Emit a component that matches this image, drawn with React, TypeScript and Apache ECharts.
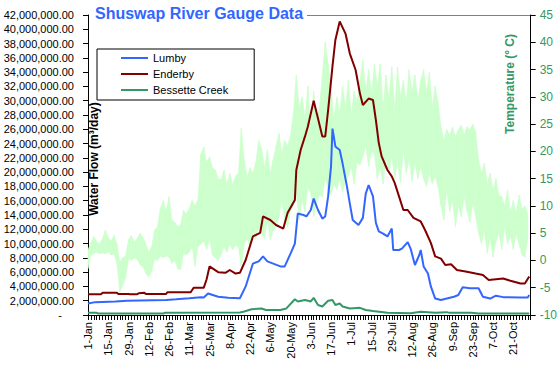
import React, { useEffect, useRef } from 'react';
import * as echarts from 'echarts';

const TITLE = 'Shuswap River Gauge Data';
const LEFT_AXIS_NAME = 'Water Flow (m³/day)';
const RIGHT_AXIS_NAME = 'Temperature (° C)';
const MONTHS = ['Jan', 'Feb', 'Mar', 'Apr', 'May', 'Jun', 'Jul', 'Aug', 'Sep', 'Oct', 'Nov', 'Dec'];
const YEAR = 2004;
const MILLION = 1000000;

// Flow values in millions of m³/day, at day-of-year positions (0 = 1-Jan)
const LUMBY_DAYS = [0, 5, 19, 27, 54, 61, 70, 78, 80, 83, 90, 97, 105, 109, 114, 118, 121, 124, 128, 133, 136, 140, 143, 145, 149, 151, 154, 156, 159, 162, 164, 166, 168, 169, 171, 174, 176, 179, 181, 183, 187, 190, 192, 194, 197, 199, 201, 204, 207, 210, 211, 215, 217, 221, 223, 226, 229, 230, 232, 235, 237, 240, 244, 248, 253, 256, 259, 264, 270, 273, 278, 282, 287, 299, 304, 305];
const LUMBY_FLOW = [1.6, 1.8, 1.9, 2.0, 2.1, 2.2, 2.35, 2.5, 2.45, 3.0, 2.55, 2.4, 2.35, 4.0, 7.2, 7.5, 8.2, 7.5, 7.2, 6.8, 6.8, 8.6, 10.0, 14.2, 14.0, 13.8, 14.7, 16.3, 14.7, 13.5, 13.8, 16.6, 20.8, 26.1, 23.6, 23.1, 21.2, 18.0, 15.6, 13.3, 12.6, 13.6, 17.0, 18.2, 16.6, 12.9, 11.7, 11.4, 11.0, 12.1, 9.1, 9.1, 9.3, 10.2, 9.3, 7.0, 8.4, 9.1, 6.8, 5.8, 4.0, 2.3, 2.1, 2.3, 2.55, 2.8, 3.9, 3.75, 3.75, 2.55, 2.3, 2.7, 2.5, 2.45, 2.45, 2.8];

const ENDERBY_DAYS = [0, 9, 10, 20, 21, 28, 29, 34, 35, 39, 40, 43, 54, 55, 71, 72, 73, 80, 82, 84, 90, 95, 98, 102, 105, 109, 114, 119, 121, 126, 130, 135, 138, 143, 144, 147, 150, 152, 156, 159, 162, 164, 166, 169, 171, 174, 178, 181, 185, 188, 190, 194, 197, 199, 201, 203, 207, 210, 212, 215, 218, 221, 225, 230, 233, 237, 240, 244, 247, 251, 255, 261, 268, 273, 277, 282, 287, 292, 299, 302, 305];
const ENDERBY_FLOW = [2.9, 2.9, 3.1, 3.1, 2.95, 2.95, 2.9, 2.9, 3.05, 3.1, 2.95, 2.95, 2.95, 3.2, 3.2, 3.5, 3.8, 3.8, 5.0, 6.8, 6.0, 5.9, 6.3, 5.8, 5.9, 7.7, 11.0, 11.5, 13.8, 13.3, 12.6, 12.1, 14.3, 16.1, 20.3, 23.1, 25.0, 26.4, 30.0, 27.5, 25.0, 25.0, 28.7, 34.8, 38.5, 41.1, 39.4, 36.6, 34.3, 31.0, 29.4, 30.3, 30.1, 27.3, 24.1, 22.2, 20.3, 19.4, 18.5, 16.6, 14.7, 14.7, 13.6, 13.1, 11.9, 10.1, 8.2, 7.9, 7.0, 7.1, 6.3, 6.1, 5.8, 5.6, 4.9, 5.0, 5.1, 4.8, 4.4, 4.4, 5.4];

const BESSETTE_DAYS = [0, 6, 7, 52, 53, 105, 108, 113, 120, 123, 133, 137, 143, 145, 150, 154, 156, 159, 162, 166, 169, 171, 174, 176, 181, 188, 192, 197, 207, 223, 230, 240, 248, 250, 265, 270, 305];
const BESSETTE_FLOW = [0.3, 0.3, 0.2, 0.2, 0.3, 0.35, 0.5, 0.8, 0.9, 0.7, 0.7, 0.9, 2.2, 1.9, 2.1, 1.9, 2.4, 1.4, 1.2, 2.0, 2.1, 1.4, 1.6, 1.2, 0.9, 1.0, 0.7, 0.55, 0.3, 0.25, 0.45, 0.3, 0.4, 0.3, 0.3, 0.2, 0.2];

// Daily temperature range (°C), sampled every second day from 1-Jan
const TEMP_MAX = [
  2.0, 3.2, 4.4, 3.5, 3.0, 4.0, 5.6, 4.2, 3.6, 4.6,
  3.0, -0.3, 0.5, 0.8, 3.8, 4.6, 3.4, 4.0, 5.0, 4.2,
  3.0, 1.5, 2.5, 5.6, 6.2, 9.5, 11.0, 9.0, 11.7, 7.4,
  7.0, 6.2, 6.5, 9.2, 8.6, 9.5, 11.0, 10.0, 11.2, 19.5,
  20.8, 18.0, 19.0, 17.0, 16.6, 15.0, 14.8, 16.6, 14.0, 16.0,
  13.9, 15.5, 16.0, 24.3, 18.4, 15.3, 17.0, 16.0, 18.0, 22.0,
  20.5, 17.0, 20.3, 16.0, 18.5, 21.0, 23.3, 19.7, 22.0, 21.0,
  23.0, 27.0, 34.0, 28.0, 30.0, 26.0, 32.0, 24.5, 31.0, 26.0,
  28.0, 34.0, 40.0, 36.0, 31.8, 26.0, 30.0, 27.0, 32.0, 28.0,
  33.0, 27.0, 31.0, 29.0, 33.0, 36.8, 31.0, 35.0, 30.7, 36.0,
  32.0, 36.0, 28.0, 34.0, 30.0, 35.5, 27.6, 35.4, 30.0, 33.0,
  29.0, 35.0, 31.0, 34.0, 29.5, 33.0, 35.0, 31.0, 34.5, 28.2,
  32.0, 29.0, 24.5, 22.0, 24.0, 23.0, 24.5, 22.7, 24.0, 24.8,
  23.0, 24.5, 24.0, 25.0, 23.5, 18.4, 16.0, 17.8, 14.0, 16.0,
  12.9, 15.0, 12.0, 11.7, 10.0, 12.9, 9.0, 11.0, 8.7, 12.0,
  9.5, 10.0, 8.5,
];
const TEMP_MIN = [
  -1.5, 1.0, 1.3, 1.5, 1.2, 1.4, 1.2, 1.6, 1.0, 1.2,
  -0.5, -5.8, -4.5, -3.2, 0.3, 0.0, 0.5, 0.2, -0.8, -1.2,
  -2.4, -3.0, -2.0, 0.2, 0.0, 0.8, 0.5, 0.8, 0.6, -0.5,
  0.0, -1.5, -1.7, 1.3, 1.0, 1.5, 2.5, -1.1, 2.5, 3.0,
  3.5, 2.0, 3.8, 1.0, 0.5, 0.0, 1.0, 2.5, 1.5, 3.0,
  2.0, 2.8, 2.5, -1.2, 3.0, 4.0, 2.5, 5.1, 4.0, 6.0,
  5.0, 4.0, 7.4, 3.8, 5.5, 6.2, 8.0, 11.0, 7.0, 6.2,
  9.0, 10.0, 12.4, 7.4, 11.0, 9.0, 13.5, 12.4, 8.0, 10.5,
  12.0, 11.7, 15.0, 13.0, 12.0, 14.0, 13.0, 15.0, 12.5, 14.5,
  15.5, 17.0, 14.0, 18.0, 17.5, 19.0, 21.0, 17.2, 20.0, 19.5,
  15.0, 17.0, 14.0, 18.5, 16.0, 19.0, 15.0, 18.0, 14.2, 20.3,
  16.0, 18.5, 14.5, 17.8, 15.0, 17.2, 15.0, 13.5, 16.0, 14.0,
  15.5, 13.5, 10.0, 7.4, 12.9, 9.0, 11.0, 6.2, 10.0, 8.0,
  11.7, 9.0, 7.0, 10.5, 8.0, 5.0, 3.0, 5.6, 1.3, 4.0,
  0.6, 3.5, 5.0, 2.0, 6.2, 3.0, 4.5, 2.0, 5.0, 3.0,
  1.0, 0.6, 4.0,
];
const TEMP_DAYS = TEMP_MAX.map((_, i) => i * 2);

const FONT = 'Arial, "Liberation Sans", sans-serif';

function pairs(days: number[], vals: number[], scale = 1) {
  return days.map((d, i) => [d, vals[i] * scale]);
}

function dayLabel(d: number) {
  const dt = new Date(YEAR, 0, 1 + d);
  return `${dt.getDate()}-${MONTHS[dt.getMonth()]}`;
}

function flowLabel(v: number) {
  if (v === 0) return '{z|-}';
  return v.toFixed(2).replace(/\B(?=(\d{3})+(?!\d))/g, ',');
}

// Band segments between consecutive samples: [day, min, max, nextDay, nextMin, nextMax]
const TEMP_SEGMENTS = TEMP_DAYS.slice(0, -1).map((d, i) => [
  d, TEMP_MIN[i], TEMP_MAX[i], TEMP_DAYS[i + 1], TEMP_MIN[i + 1], TEMP_MAX[i + 1],
]);

export default function App() {
  const ref = useRef<HTMLDivElement>(null);

  useEffect(() => {
    if (!ref.current) return;
    const chart = echarts.init(ref.current, undefined, { renderer: 'svg' });
    const option: any = {
      animation: false,
      backgroundColor: '#ffffff',
      title: {
        text: TITLE,
        left: 93,
        top: 5,
        padding: [0, 2],
        textStyle: { color: '#3366ff', fontSize: 16, fontWeight: 'bold', fontFamily: FONT },
      },
      legend: {
        data: ['Lumby', 'Enderby', 'Bessette Creek'],
        orient: 'vertical',
        left: 97,
        top: 49,
        padding: [2, 26, 3, 24],
        itemGap: 2,
        itemWidth: 27,
        itemHeight: 2,
        icon: 'rect',
        backgroundColor: '#ffffff',
        borderColor: '#000000',
        borderWidth: 1,
        borderRadius: 0,
        textStyle: { fontSize: 11, color: '#000', fontFamily: FONT, lineHeight: 14 },
      },
      grid: { left: 88, right: 29, top: 15, bottom: 54, containLabel: false },
      xAxis: {
        type: 'value',
        min: 0,
        max: 306,
        interval: 14,
        axisLine: { show: true, onZero: false, lineStyle: { color: '#000', width: 1 } },
        axisTick: { show: true, length: 5, lineStyle: { color: '#000' } },
        minorTick: { show: true, splitNumber: 7, length: 5, lineStyle: { color: '#000' } },
        splitLine: { show: false },
        axisLabel: {
          rotate: 90,
          margin: 7,
          fontSize: 11,
          color: '#000',
          fontFamily: FONT,
          showMaxLabel: false,
          formatter: (v: number) => dayLabel(v),
        },
      },
      yAxis: [
        {
          type: 'value',
          min: 0,
          max: 42 * MILLION,
          interval: 2 * MILLION,
          position: 'left',
          axisLine: { show: true, lineStyle: { color: '#000' } },
          axisTick: { show: true, length: 5, lineStyle: { color: '#000' } },
          splitLine: { show: false },
          axisLabel: {
            margin: 14,
            fontSize: 11,
            color: '#000',
            fontFamily: FONT,
            formatter: flowLabel,
            rich: { z: { padding: [0, 12, 0, 0], fontSize: 11, fontFamily: FONT, color: '#000' } },
          },
        },
        {
          type: 'value',
          min: -10,
          max: 45,
          interval: 5,
          position: 'right',
          axisLine: { show: true, lineStyle: { color: '#000' } },
          axisTick: { show: true, length: 5, lineStyle: { color: '#000' } },
          splitLine: { show: false },
          axisLabel: { margin: 9, fontSize: 12, color: '#339966', fontFamily: FONT },
        },
      ],
      series: [
        {
          name: 'Temperature',
          type: 'custom',
          yAxisIndex: 1,
          data: TEMP_SEGMENTS,
          encode: { x: [0, 3], y: [1, 2, 4, 5] },
          silent: true,
          z: 1,
          renderItem: (params: any, api: any) => {
            const p0 = api.coord([api.value(0), api.value(1)]);
            const p1 = api.coord([api.value(3), api.value(4)]);
            const p2 = api.coord([api.value(3), api.value(5)]);
            const p3 = api.coord([api.value(0), api.value(2)]);
            return {
              type: 'polygon',
              shape: { points: [p0, p1, p2, p3] },
              style: { fill: '#ccffcc', stroke: '#ccffcc', lineWidth: 0.6 },
            };
          },
        },
        {
          name: 'Lumby',
          type: 'line',
          data: pairs(LUMBY_DAYS, LUMBY_FLOW, MILLION),
          symbol: 'none',
          color: '#3366ff',
          lineStyle: { width: 2, color: '#3366ff' },
          z: 3,
        },
        {
          name: 'Enderby',
          type: 'line',
          data: pairs(ENDERBY_DAYS, ENDERBY_FLOW, MILLION),
          symbol: 'none',
          color: '#800000',
          lineStyle: { width: 2, color: '#800000' },
          z: 3,
        },
        {
          name: 'Bessette Creek',
          type: 'line',
          data: pairs(BESSETTE_DAYS, BESSETTE_FLOW, MILLION),
          symbol: 'none',
          color: '#339966',
          lineStyle: { width: 2, color: '#339966' },
          z: 3,
        },
      ],
      graphic: [
        {
          type: 'line',
          shape: { x1: 307, y1: 15.5, x2: 531, y2: 15.5 },
          style: { stroke: '#808080', lineWidth: 1 },
          silent: true,
        },
        {
          type: 'text',
          x: 94,
          y: 159,
          rotation: Math.PI / 2,
          style: {
            text: LEFT_AXIS_NAME,
            font: `bold 12px ${FONT}`,
            fill: '#000',
            align: 'center',
            verticalAlign: 'middle',
            textAlign: 'center',
            textVerticalAlign: 'middle',
          },
          z: 10,
        },
        {
          type: 'text',
          x: 510,
          y: 84,
          rotation: Math.PI / 2,
          style: {
            text: RIGHT_AXIS_NAME,
            font: `bold 12px ${FONT}`,
            fill: '#339966',
            align: 'center',
            verticalAlign: 'middle',
            textAlign: 'center',
            textVerticalAlign: 'middle',
          },
          z: 10,
        },
      ],
    };
    chart.setOption(option);
    return () => chart.dispose();
  }, []);

  return (
    <div
      ref={ref}
      style={{ position: 'fixed', left: 0, top: 0, width: 560, height: 369, background: '#fff' }}
    />
  );
}
